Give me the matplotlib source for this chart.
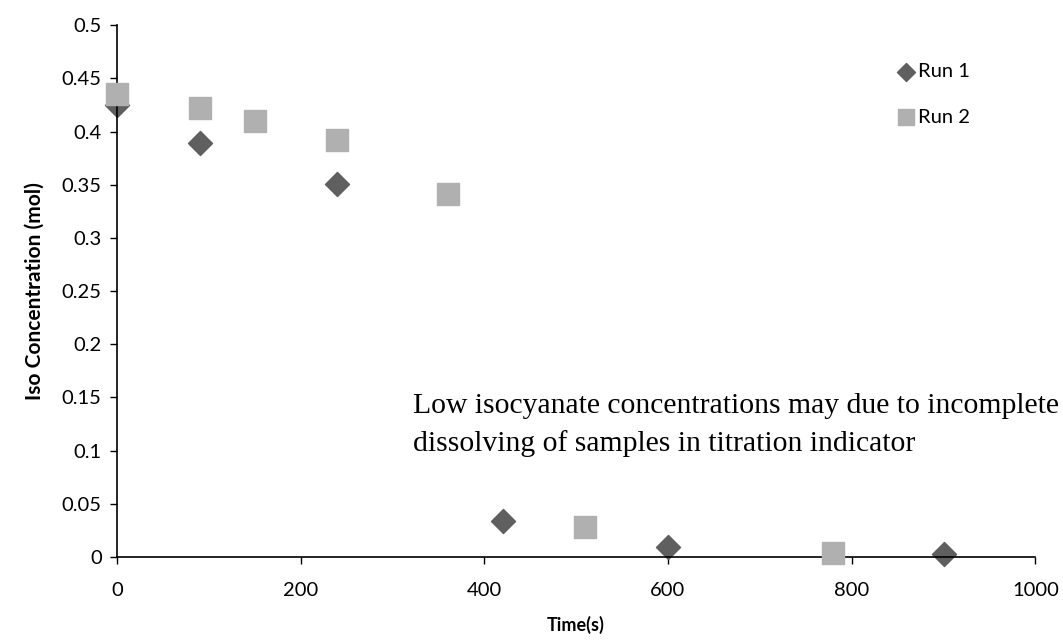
import matplotlib
matplotlib.use('Agg')
import matplotlib.pyplot as plt

# titration results, two runs
time_run1 = [0, 90, 240, 420, 600, 900]
iso_run1 = [0.425, 0.389, 0.351, 0.034, 0.0095, 0.003]

time_run2 = [0, 90, 150, 240, 360, 510, 780]
iso_run2 = [0.435, 0.422, 0.41, 0.392, 0.341, 0.028, 0.004]

x_ticks = [0, 200, 400, 600, 800, 1000]
y_ticks = [0, 0.05, 0.1, 0.15, 0.2, 0.25, 0.3, 0.35, 0.4, 0.45, 0.5]
y_tick_labels = ['0', '0.05', '0.1', '0.15', '0.2', '0.25', '0.3', '0.35', '0.4', '0.45', '0.5']

plt.rcParams['font.family'] = ['Lato', 'DejaVu Sans']

fig = plt.figure(figsize=(10.63, 6.44), dpi=100)
ax = fig.add_axes([0.110, 0.135, 0.864, 0.826])

ax.scatter(time_run1, iso_run1, marker='D', s=150, color='#5f5f5f', label='Run 1', zorder=2, clip_on=False)
ax.scatter(time_run2, iso_run2, marker='s', s=230, color='#b0b0b0', label='Run 2', zorder=3, clip_on=False)

ax.set_xlim(0, 1000)
ax.set_ylim(0, 0.5)
ax.set_xticks(x_ticks)
ax.set_yticks(y_ticks)
ax.set_yticklabels(y_tick_labels)
ax.tick_params(direction='out', length=5, width=1, labelsize=14.5, colors='black')
ax.tick_params(axis='x', pad=13)
ax.tick_params(axis='y', pad=6)

for side in ['top', 'right']:
    ax.spines[side].set_visible(False)
for side in ['left', 'bottom']:
    ax.spines[side].set_linewidth(1.2)

ax.set_xlabel('Time(s)', fontsize=13, fontweight='bold', labelpad=12)
ax.set_ylabel('Iso Concentration (mol)', fontsize=15, fontweight='bold', labelpad=12)

ax.text(0.322, 0.189, 'Low isocyanate concentrations may due to incomplete\ndissolving of samples in titration indicator',
        transform=ax.transAxes, fontsize=21.3, family='Liberation Serif', linespacing=1.5, va='bottom')

leg = ax.legend(loc='upper left', bbox_to_anchor=(0.826, 0.93), bbox_transform=fig.transFigure,
                frameon=False, fontsize=14.5, handletextpad=0.1, handlelength=1.0,
                labelspacing=1.4, markerscale=0.75)

fig.savefig('out.png', dpi=100)
